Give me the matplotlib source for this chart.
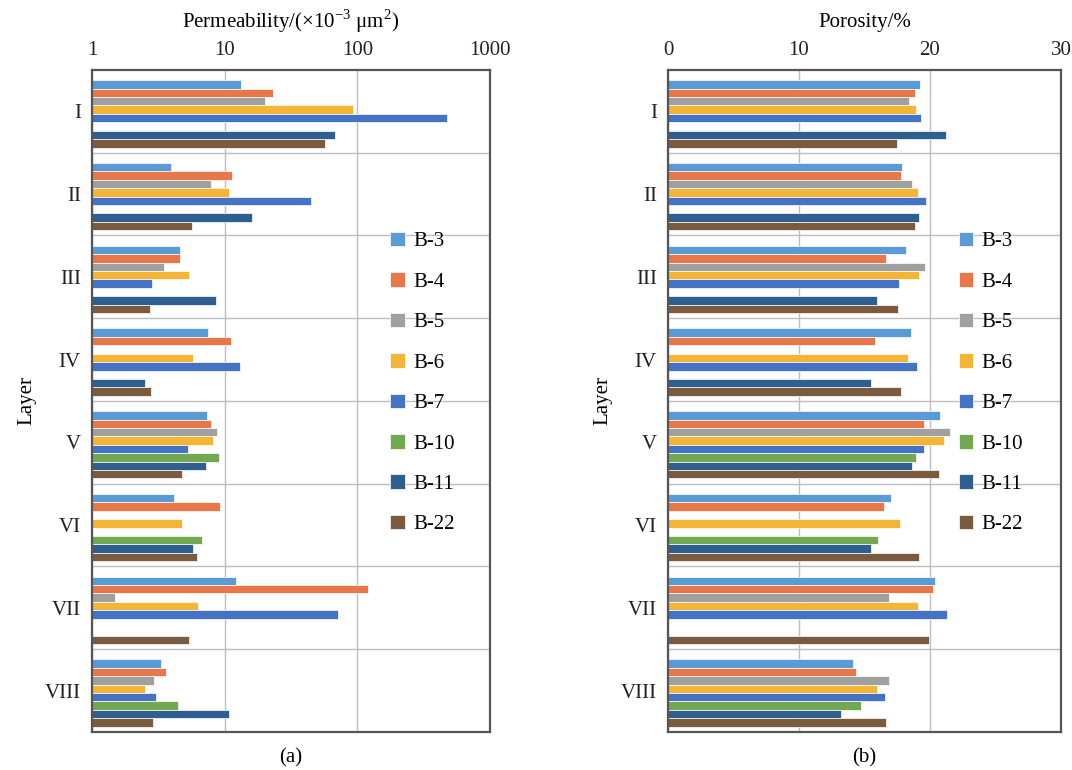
import numpy as np
import matplotlib
matplotlib.use('Agg')
import matplotlib.pyplot as plt
from matplotlib.ticker import FixedLocator, NullLocator

# =============================================================================
# Data
# =============================================================================
layers = ['I', 'II', 'III', 'IV', 'V', 'VI', 'VII', 'VIII']
wells = ['B-3', 'B-4', 'B-5', 'B-6', 'B-7', 'B-10', 'B-11', 'B-22']
nan = np.nan

# permeability (x10^-3 um^2), one list per well, layers I..VIII
perm_B3 = [13.3, 3.95, 4.6, 7.5, 7.4, 4.16, 12.2, 3.32]
perm_B4 = [23.1, 11.4, 4.6, 11.1, 7.9, 9.3, 120, 3.6]
perm_B5 = [20.0, 7.9, 3.46, nan, 8.75, nan, 1.5, 2.91]
perm_B6 = [92, 10.7, 5.4, 5.8, 8.1, 4.8, 6.3, 2.53]
perm_B7 = [470, 45, 2.84, 13.0, 5.3, nan, 72, 3.03]
perm_B10 = [nan, nan, nan, nan, 9.1, 6.8, nan, 4.43]
perm_B11 = [68, 16, 8.6, 2.52, 7.2, 5.8, nan, 10.8]
perm_B22 = [57, 5.7, 2.75, 2.78, 4.8, 6.2, 5.4, 2.87]

# porosity (%)
por_B3 = [19.23, 17.86, 18.16, 18.57, 20.8, 17.02, 20.42, 14.1]
por_B4 = [18.85, 17.81, 16.62, 15.78, 19.51, 16.51, 20.22, 14.33]
por_B5 = [18.42, 18.6, 19.59, nan, 21.5, nan, 16.87, 16.87]
por_B6 = [18.9, 19.1, 19.15, 18.29, 21.1, 17.73, 19.08, 15.93]
por_B7 = [19.28, 19.66, 17.66, 19.03, 19.56, nan, 21.31, 16.54]
por_B10 = [nan, nan, nan, nan, 18.95, 16.06, nan, 14.76]
por_B11 = [21.26, 19.18, 15.96, 15.5, 18.64, 15.5, nan, 13.21]
por_B22 = [17.45, 18.85, 17.56, 17.78, 20.68, 19.13, 19.89, 16.66]

perm = [perm_B3, perm_B4, perm_B5, perm_B6, perm_B7, perm_B10, perm_B11, perm_B22]
por = [por_B3, por_B4, por_B5, por_B6, por_B7, por_B10, por_B11, por_B22]

colours = ['#5B9BD5', '#E8784A', '#A0A0A0', '#F4B536',
           '#4472C4', '#72A84F', '#2E5F8F', '#7A5B3F']

# =============================================================================
# Plotting
# =============================================================================
fs = 15
plt.rcParams.update({'font.family': ['Liberation Serif', 'DejaVu Serif'],
                     'mathtext.fontset': 'custom',
                     'mathtext.rm': 'Liberation Serif',
                     'font.size': fs})

fig = plt.figure(figsize=(10.72, 7.70), dpi=100, facecolor='w')
ax1 = fig.add_axes([0.0858, 0.0494, 0.3713, 0.8597])
ax2 = fig.add_axes([0.6231, 0.0494, 0.3666, 0.8597])

y = np.arange(len(layers))
h = 0.1017
n = len(wells)


def draw(ax, data):
    for i, (vals, c) in enumerate(zip(data, colours)):
        off = (i - (n - 1) / 2) * h + 0.03
        ax.barh(y + off, vals, height=h, color=c, edgecolor='white',
                linewidth=0.5, label=wells[i], zorder=2)
    ax.set_ylim(len(layers) - 0.5, -0.5)
    ax.set_yticks(y)
    ax.set_yticklabels(layers)
    ax.yaxis.set_minor_locator(FixedLocator(np.arange(0.5, len(layers) - 0.5, 1)))
    ax.grid(True, axis='x', which='major', color='#BDBDBD', lw=1.0, zorder=0)
    ax.grid(True, axis='y', which='minor', color='#BDBDBD', lw=1.0, zorder=0)
    ax.xaxis.tick_top()
    ax.xaxis.set_label_position('top')
    ax.tick_params(axis='both', which='both', length=0, labelsize=fs, colors='#222222')
    ax.tick_params(axis='x', pad=7)
    ax.tick_params(axis='y', pad=8)
    for s in ax.spines.values():
        s.set_color('#555555')
        s.set_linewidth(1.6)
        s.set_zorder(3)
    ax.set_ylabel('Layer', fontsize=fs, labelpad=6)


# permeability
draw(ax1, perm)
ax1.set_xscale('log')
ax1.set_xlim(1, 1000)
ax1.xaxis.set_major_locator(FixedLocator([1, 10, 100, 1000]))
ax1.xaxis.set_minor_locator(NullLocator())
ax1.set_xticklabels(['1', '10', '100', '1000'])
ax1.set_xlabel(r'Permeability/(×10$^{\mathrm{-3}}$ μm$^{\mathrm{2}}$)', fontsize=fs, labelpad=10)
ax1.legend(loc='center left', bbox_to_anchor=(0.702, 0.527), frameon=False,
           fontsize=fs, handlelength=0.7, handleheight=0.7, handletextpad=0.4,
           labelspacing=1.0)
ax1.text(0.5, -0.025, '(a)', transform=ax1.transAxes, ha='center', va='top', fontsize=fs)

# porosity
draw(ax2, por)
ax2.set_xlim(0, 30)
ax2.xaxis.set_major_locator(FixedLocator([0, 10, 20, 30]))
ax2.set_xlabel('Porosity/%', fontsize=fs, labelpad=10)
ax2.legend(loc='center left', bbox_to_anchor=(0.692, 0.527), frameon=False,
           fontsize=fs, handlelength=0.7, handleheight=0.7, handletextpad=0.4,
           labelspacing=1.0)
ax2.text(0.5, -0.025, '(b)', transform=ax2.transAxes, ha='center', va='top', fontsize=fs)

plt.savefig('out.png', dpi=100)
